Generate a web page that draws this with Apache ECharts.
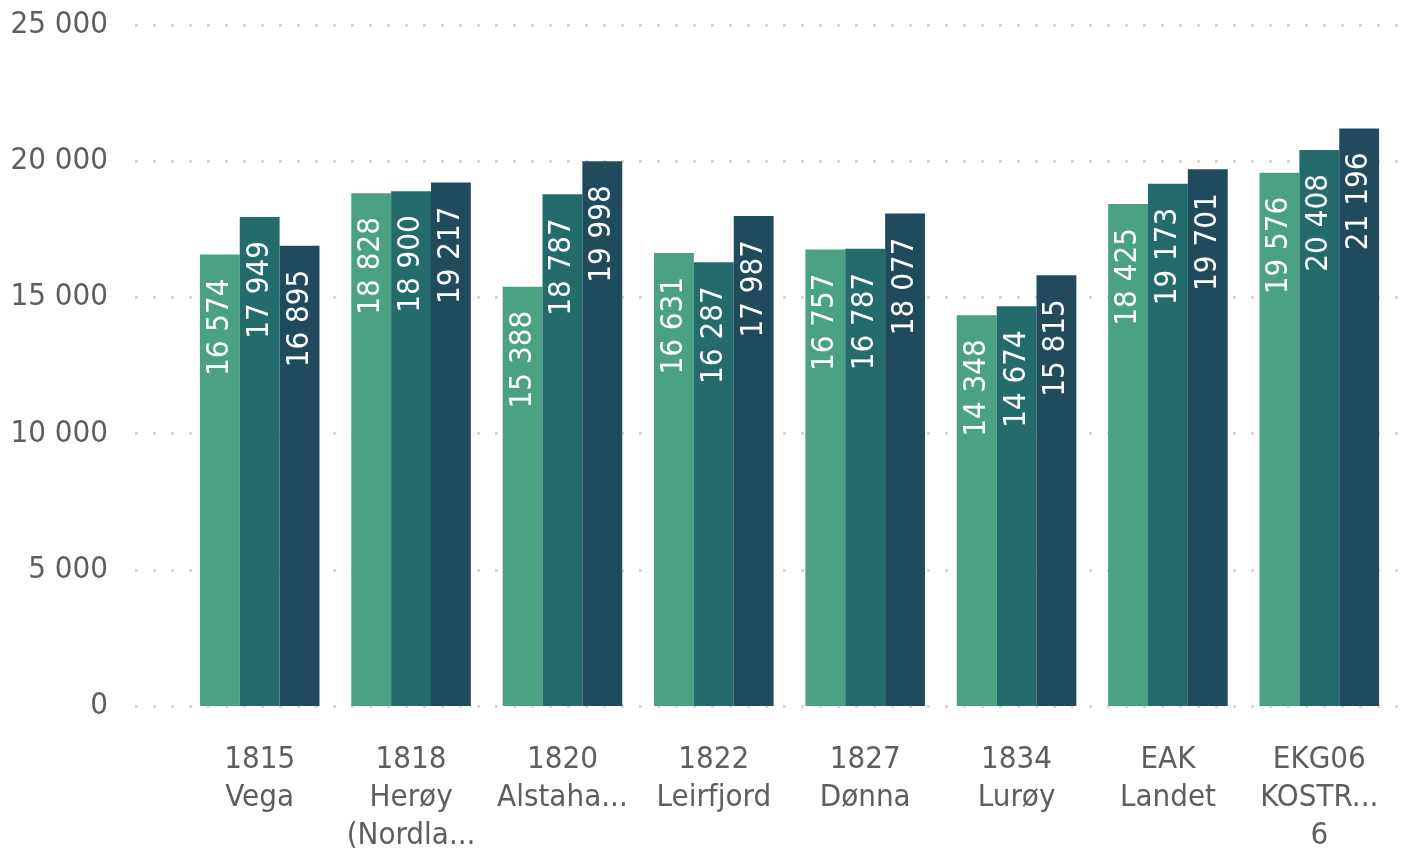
<!DOCTYPE html>
<html>
<head>
<meta charset="utf-8">
<script src="https://cdn.jsdelivr.net/npm/echarts@6/dist/echarts.min.js"></script>
<style>
    html, body { margin: 0; padding: 0; background: #fff; }
    #chart { width: 1407px; height: 848px; }
</style>
</head>
<body>
<div id="chart"></div>
<script>
var categories = ['1815\nVega', '1818\nHerøy\n(Nordla...', '1820\nAlstaha...', '1822\nLeirfjord',
    '1827\nDønna', '1834\nLurøy', 'EAK\nLandet', 'EKG06\nKOSTR...\n6'];
var seriesA = [16574, 18828, 15388, 16631, 16757, 14348, 18425, 19576];
var seriesB = [17949, 18900, 18787, 16287, 16787, 14674, 19173, 20408];
var seriesC = [16895, 19217, 19998, 17987, 18077, 15815, 19701, 21196];
var colors = ['#4ba283', '#246b6b', '#1f4b5c'];

var font = '"DejaVu Sans Condensed", "DejaVu Sans", sans-serif';

function fmt(v) {
    return String(v).replace(/\B(?=(\d{3})+(?!\d))/g, ' ');
}

var chart = echarts.init(document.getElementById('chart'));

function barSeries(data, i) {
    return {
        type: 'bar',
        data: data,
        xAxisIndex: 0,
        yAxisIndex: 0,
        barGap: '0%',
        barCategoryGap: '21%',
        itemStyle: { color: colors[i] },
        label: {
            show: true,
            position: 'insideTop',
            distance: 24,
            rotate: 90,
            align: 'right',
            verticalAlign: 'middle',
            color: '#ffffff',
            fontFamily: font,
            fontSize: 31,
            formatter: function (p) { return fmt(p.value); }
        }
    };
}

chart.setOption({
    animation: false,
    grid: [
        { left: 184, right: 12, top: 25, bottom: 142, outerBoundsMode: 'none' },
        { left: 135, right: 0, top: 25, bottom: 142, outerBoundsMode: 'none' }   // only for the dotted lines
    ],
    xAxis: [
        {
            type: 'category',
            gridIndex: 0,
            data: categories,
            axisLine: { show: false },
            axisTick: { show: false },
            axisLabel: {
                margin: 35,
                interval: 0,
                color: '#605e5c',
                fontFamily: font,
                fontSize: 31,
                lineHeight: 38
            }
        },
        { type: 'value', gridIndex: 1, show: false }
    ],
    yAxis: [
        {
            type: 'value',
            gridIndex: 0,
            min: 0,
            max: 25000,
            interval: 5000,
            splitLine: { show: false },
            axisLine: { show: false },
            axisTick: { show: false },
            axisLabel: {
                margin: 76,
                color: '#605e5c',
                fontFamily: font,
                fontSize: 31,
                formatter: fmt
            }
        },
        {
            type: 'value',
            gridIndex: 1,
            min: 0,
            max: 25000,
            interval: 5000,
            axisLine: { show: false },
            axisTick: { show: false },
            axisLabel: { show: false },
            splitLine: {
                lineStyle: { color: '#d8d8d8', width: 3, type: [3, 15] }
            }
        }
    ],
    series: [
        barSeries(seriesA, 0),
        barSeries(seriesB, 1),
        barSeries(seriesC, 2)
    ]
});
</script>
</body>
</html>
